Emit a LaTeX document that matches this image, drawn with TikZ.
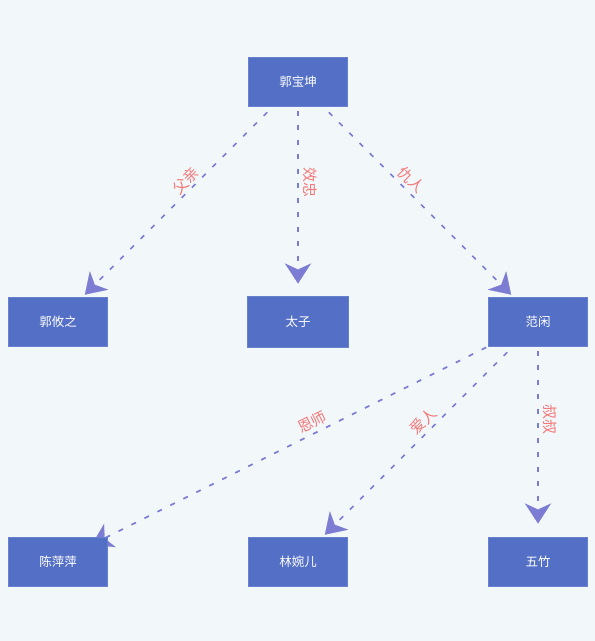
\documentclass[tikz,border=0pt]{standalone}
\usepackage{fontspec}
\newfontfamily\cjk{Noto Sans CJK SC}
\usetikzlibrary{arrows.meta,calc}
\definecolor{bgc}{RGB}{242,247,250}
\definecolor{boxc}{RGB}{84,112,198}
\definecolor{edgec}{RGB}{124,124,210}
\definecolor{lblc}{RGB}{245,120,120}
\pgfdeclarelayer{edgelayer}
\pgfsetlayers{edgelayer,main}
\begin{document}
\begin{tikzpicture}[x=1pt,y=-1pt,
  person/.style={rectangle, fill=boxc, draw=boxc!88!white, line width=0.8pt,
    minimum width=99pt, minimum height=49pt, inner sep=0pt, text=white,
    font=\cjk\fontsize{12.5}{14}\selectfont},
  rel/.style={draw=edgec, line width=1.7pt, dash pattern=on 5pt off 9.5pt,
    -{Stealth[length=20pt,width=26pt,inset=6pt,line width=0.2pt]}},
  lbl/.style={text=lblc, font=\cjk\fontsize{15}{17}\selectfont, inner sep=0pt},
]
\useasboundingbox (0,0) rectangle (595,641);
\node[person] (gbk) at (298,81.5) {郭宝坤};
\node[person] (gyz) at (58,321.5) {郭攸之};
\node[person, minimum width=101pt, minimum height=51pt] (tz) at (298,321.5) {太子};
\node[person] (fx) at (538,321.5) {范闲};
\node[person] (cpp) at (58,561.5) {陈萍萍};
\node[person] (lwe) at (298,561.5) {林婉儿};
\node[person] (wz) at (538,561.5) {五竹};

\begin{pgfonlayer}{edgelayer}
\fill[bgc] (0,0) rectangle (595,641);
\draw[rel] (gbk.center) -- ($(gyz.center)!38pt!(gbk.center)$);
\draw[rel] (gbk.center) -- ($(tz.center)!38pt!(gbk.center)$);
\draw[rel] (gbk.center) -- ($(fx.center)!38pt!(gbk.center)$);
\draw[rel] (fx.center) -- ($(cpp.center)!38pt!(fx.center)$);
\draw[rel] (fx.center) -- ($(lwe.center)!38pt!(fx.center)$);
\draw[rel] (fx.center) -- ($(wz.center)!38pt!(fx.center)$);
\end{pgfonlayer}

\node[lbl, rotate=45, yshift=9.5pt] (l1) at ($(gbk.center)!0.44!(gyz.center)$) {父亲};
\node[lbl, rotate=-90, yshift=12.5pt] (l2) at ($(gbk.center)!0.42!(tz.center)$) {效忠};
\node[lbl, rotate=-45, yshift=10.6pt] (l3) at ($(gbk.center)!0.44!(fx.center)$) {仇人};
\node[lbl, rotate=26.57, yshift=11pt] (l4) at ($(fx.center)!0.46!(cpp.center)$) {恩师};
\node[lbl, rotate=45, yshift=10.6pt] (l5) at ($(fx.center)!0.446!(lwe.center)$) {爱人};
\node[lbl, rotate=-90, yshift=12pt] (l6) at ($(fx.center)!0.41!(wz.center)$) {叔叔};
\end{tikzpicture}
\end{document}
